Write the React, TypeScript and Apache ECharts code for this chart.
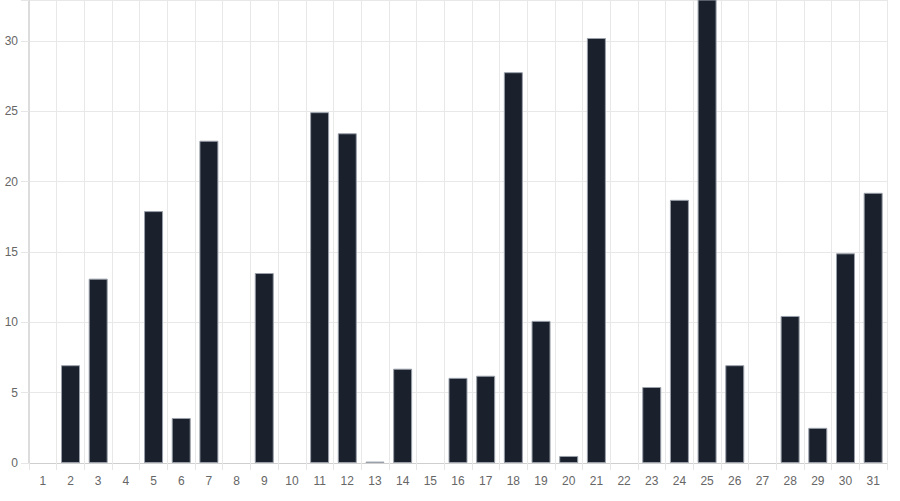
import React, { useEffect, useRef } from "react";
import * as echarts from "echarts";

const days: string[] = [
  "1", "2", "3", "4", "5", "6", "7", "8", "9", "10",
  "11", "12", "13", "14", "15", "16", "17", "18", "19", "20",
  "21", "22", "23", "24", "25", "26", "27", "28", "29", "30", "31",
];
const values: number[] = [
  0, 6.95, 13.1, 0, 17.9, 3.2, 22.9, 0, 13.5, 0,
  24.93, 23.43, 0.1, 6.7, 0, 6.05, 6.2, 27.77, 10.1, 0.5,
  30.2, 0, 5.4, 18.7, 36, 6.95, 0, 10.45, 2.5, 14.9, 19.2,
];
const yTicks: number[] = [0, 5, 10, 15, 20, 25, 30];

export default function App() {
  const ref = useRef<HTMLDivElement>(null);
  useEffect(() => {
    if (!ref.current) return;
    const chart = echarts.init(ref.current, undefined, { renderer: "svg" });
    const font = "Liberation Sans";
    chart.setOption({
      animation: false,
      textStyle: { fontFamily: font },
      grid: { left: 29, right: 13, top: 0, bottom: 38, containLabel: false },
      xAxis: {
        type: "category",
        data: days,
        boundaryGap: true,
        axisLine: { show: true, lineStyle: { color: "#cfcfcf", width: 1 } },
        axisTick: { show: true, length: 7, lineStyle: { color: "#e6e6e6" } },
        axisLabel: { color: "#666", fontSize: 12, margin: 12, fontFamily: font, interval: 0 },
        splitLine: { show: true, interval: 0, lineStyle: { color: "#e8e8e8", width: 1 } },
      },
      yAxis: {
        type: "value",
        min: 0,
        max: 32.9,
        interval: 5,
        axisLine: { show: true, lineStyle: { color: "#dcdcdc", width: 2 } },
        axisTick: { show: true, length: 8, lineStyle: { color: "#e6e6e6" } },
        axisLabel: {
          color: "#666",
          fontSize: 12,
          margin: 11,
          fontFamily: font,
          formatter: (v: number) => (yTicks.includes(v) ? String(v) : ""),
        },
        splitLine: { show: true, lineStyle: { color: "#e8e8e8", width: 1 } },
      },
      series: [
        {
          type: "bar",
          data: values.map((v) =>
            v === 0 ? { value: v, itemStyle: { borderWidth: 0, color: "transparent" } } : v
          ),
          barWidth: 19,
          clip: true,
          itemStyle: {
            color: "#1a202c",
            borderColor: "#9aa0aa",
            borderWidth: 1,
          },
        },
      ],
    });
    return () => chart.dispose();
  }, []);
  return (
    <div
      ref={ref}
      style={{ position: "fixed", left: 0, top: 0, width: 900, height: 501, background: "#fff" }}
    />
  );
}
